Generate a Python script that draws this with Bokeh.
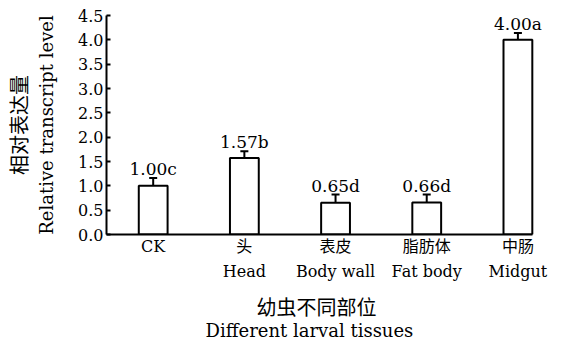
from bokeh.plotting import figure
from bokeh.models import (ColumnDataSource, Range1d, FixedTicker, PrintfTickFormatter,
                          Whisker, TeeHead, Title)
from bokeh.core.properties import value
from bokeh.embed import file_html
from bokeh.resources import INLINE

# Tissue categories (Chinese / English) and expression data
tissues_cn = ["", "头", "表皮", "脂肪体", "中肠"]
tissues_en = ["CK", "Head", "Body wall", "Fat body", "Midgut"]
expression = [1.00, 1.57, 0.65, 0.66, 4.00]
std_err = [0.16, 0.14, 0.17, 0.16, 0.14]
sig_letters = ["c", "b", "d", "d", "a"]
y_ticks = [0.0, 0.5, 1.0, 1.5, 2.0, 2.5, 3.0, 3.5, 4.0, 4.5]

SERIF = "'DejaVu Serif', 'Noto Sans CJK SC'"
CJK = "'Noto Sans CJK SC'"

xs = list(range(len(tissues_en)))
tick_text = {i: (cn + "\n" + en if cn else en) for i, (cn, en) in enumerate(zip(tissues_cn, tissues_en))}

src = ColumnDataSource(dict(
    x=xs,
    val=expression,
    upper=[v + e for v, e in zip(expression, std_err)],
    label=["%.2f%s" % (v, s) for v, s in zip(expression, sig_letters)],
))

# frame spans x -0.512..4.5 so the last label has room; the axis line stops at 4.163
p = figure(width=563, height=339, x_range=Range1d(-0.512, 4.5), y_range=Range1d(0, 4.5),
           output_backend="svg", toolbar_location=None,
           min_border_left=103, min_border_right=0, min_border_top=15, min_border_bottom=105)
p.outline_line_color = None
p.grid.visible = False
p.background_fill_color = "white"
p.border_fill_color = "white"

p.vbar(x="x", top="val", width=0.316, source=src,
       fill_color="white", line_color="black", line_width=2)

p.add_layout(Whisker(base="x", upper="upper", lower="val", source=src,
                     line_color="black", line_width=2,
                     upper_head=TeeHead(size=8, line_color="black", line_width=2),
                     lower_head=None))

# value + significance letter above each error bar
p.text(x="x", y="upper", text="label", source=src, text_align="center",
       text_baseline="bottom", y_offset=1,
       text_font=value(SERIF), text_font_size="17px", text_color="black")

# y axis
ya = p.yaxis[0]
ya.ticker = FixedTicker(ticks=y_ticks)
ya.formatter = PrintfTickFormatter(format="%.1f")
ya.major_tick_in = 4
ya.major_tick_out = 0
ya.minor_tick_line_color = None
ya.axis_line_width = 2
ya.major_tick_line_width = 2
ya.major_label_standoff = 3
ya.major_label_text_font = SERIF
ya.major_label_text_font_size = "16px"
ya.major_label_text_color = "black"
ya.axis_label = "Relative transcript level"
ya.axis_label_standoff = 18
ya.axis_label_text_font = SERIF
ya.axis_label_text_font_size = "18px"
ya.axis_label_text_font_style = "normal"
ya.axis_label_text_color = "black"

# x axis
xa = p.xaxis[0]
xa.bounds = (-0.512, 4.163)
xa.ticker = FixedTicker(ticks=xs)
xa.major_label_overrides = tick_text
xa.major_tick_in = 0
xa.major_tick_out = 0
xa.minor_tick_line_color = None
xa.axis_line_width = 2
xa.major_label_standoff = 2
xa.major_label_text_font = SERIF
xa.major_label_text_font_size = "16px"
xa.major_label_text_line_height = 1.35
xa.major_label_text_color = "black"

# axis titles
p.add_layout(Title(text="幼虫不同部位", align="left", offset=150, standoff=10,
                   text_font=CJK, text_font_size="20px", text_font_style="normal",
                   text_color="black"), "below")
p.add_layout(Title(text="Different larval tissues", align="left", offset=99, standoff=-16,
                   text_line_height=1.15,
                   text_font=SERIF, text_font_size="18px", text_font_style="normal",
                   text_color="black"), "below")
p.add_layout(Title(text="相对表达量", align="center", standoff=2,
                   text_font=CJK, text_font_size="20px", text_font_style="normal",
                   text_color="black"), "left")

open("out.html", "w").write(file_html(p, INLINE))
